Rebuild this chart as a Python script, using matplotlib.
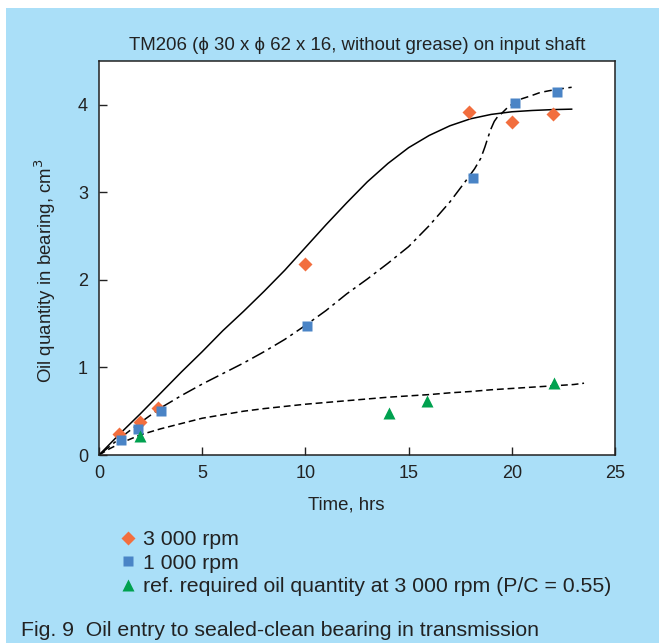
import matplotlib
matplotlib.use("Agg")
import matplotlib.pyplot as plt
from matplotlib.patches import Rectangle
from matplotlib.lines import Line2D

plt.rcParams['font.family'] = ['Liberation Sans', 'DejaVu Sans']

# measured points
t_3000 = [0.95, 2.0, 2.85, 10.0, 17.95, 20.0, 22.0]
q_3000 = [0.24, 0.38, 0.54, 2.18, 3.92, 3.80, 3.89]
t_1000 = [1.05, 1.9, 3.0, 10.08, 18.13, 20.16, 22.2]
q_1000 = [0.17, 0.30, 0.50, 1.47, 3.16, 4.02, 4.15]
t_ref = [2.0, 14.05, 15.9, 22.05]
q_ref = [0.22, 0.48, 0.62, 0.82]

# fitted curves
fit_3000_t = [0, 1, 2, 3, 4, 5, 6, 7, 8, 9, 10, 11, 12, 13, 14, 15, 16, 17, 18, 19, 20, 21, 22, 22.9]
fit_3000_q = [0, 0.24, 0.47, 0.71, 0.95, 1.18, 1.42, 1.64, 1.87, 2.11, 2.37, 2.63, 2.88, 3.12,
              3.33, 3.51, 3.65, 3.76, 3.84, 3.89, 3.92, 3.935, 3.945, 3.95]
fit_1000_t = [0, 1, 2, 3, 4, 5, 6, 7, 8, 9, 10, 11, 12, 13, 14, 15, 16, 17,
              17.8, 18.2, 18.5, 18.7, 18.85, 19.0, 19.15, 19.3, 19.5]
fit_1000_q = [0, 0.19, 0.37, 0.54, 0.68, 0.81, 0.93, 1.05, 1.18, 1.32, 1.48, 1.65, 1.84, 2.01,
              2.19, 2.38, 2.62, 2.89, 3.14, 3.27, 3.39, 3.52, 3.63, 3.73, 3.81, 3.86, 3.90]
fit_1000b_t = [19.5, 19.8, 20.16, 20.5, 20.9, 21.37, 21.8, 22.3, 22.9]
fit_1000b_q = [3.90, 3.97, 4.03, 4.07, 4.10, 4.14, 4.16, 4.18, 4.20]
fit_ref_t = [0, 0.5, 1, 1.5, 2, 3, 4, 5, 6, 7, 8, 9, 10, 11, 12, 13, 14, 15, 16, 17, 18, 19,
             20, 21, 22, 23, 23.5]
fit_ref_q = [0, 0.07, 0.13, 0.18, 0.23, 0.30, 0.36, 0.42, 0.46, 0.50, 0.53, 0.555, 0.58, 0.60,
             0.62, 0.64, 0.66, 0.675, 0.69, 0.71, 0.725, 0.745, 0.76, 0.775, 0.79, 0.805, 0.82]

bg = '#aadff8'
c_orange = '#f26e3e'
c_blue = '#4a84c6'
c_green = '#00a14f'
ink = '#222222'

fig = plt.figure(figsize=(6.59, 6.43), dpi=100)
fig.patch.set_facecolor('white')
fig.add_artist(Rectangle((6 / 659, 0), 1, 1 - 8 / 643, transform=fig.transFigure,
                         facecolor=bg, edgecolor='none', zorder=-10))

ax = fig.add_axes([99 / 659, 1 - 455 / 643, (615 - 99) / 659, (455 - 61) / 643])
ax.set_facecolor('white')

ax.plot(fit_3000_t, fit_3000_q, color='black', lw=1.1, ls='-')
ax.plot(fit_1000_t, fit_1000_q, color='black', lw=1.1, dashes=(9, 3, 2, 3))
ax.plot(fit_1000b_t, fit_1000b_q, color='black', lw=1.1, dashes=(5, 3))
ax.plot(fit_ref_t, fit_ref_q, color='black', lw=1.1, dashes=(4.5, 2.5))

ax.plot(t_3000, q_3000, ls='none', marker='D', ms=7.5, color=c_orange, mec='none', zorder=5)
ax.plot(t_1000, q_1000, ls='none', marker='s', ms=7.2, color=c_blue, mec='none', zorder=5)
ax.plot(t_ref, q_ref, ls='none', marker='^', ms=9, color=c_green, mec='none', zorder=5)

ax.set_xlim(0, 25)
ax.set_ylim(0, 4.5)
ax.set_xticks([0, 5, 10, 15, 20, 25])
ax.set_yticks([0, 1, 2, 3, 4])
ax.tick_params(direction='in', length=5.5, width=1, labelsize=13, colors=ink)
ax.tick_params(axis='y', pad=8)
ax.tick_params(axis='x', pad=7)
for s in ax.spines.values():
    s.set_linewidth(1.1)
    s.set_color(ink)

fig.text(357 / 659, 1 - 46 / 643, 'TM206 (\u03d5 30 x \u03d5 62 x 16, without grease) on input shaft',
         ha='center', va='center', fontsize=13.4, color=ink)
fig.text(45 / 659, 1 - 271 / 643, 'Oil quantity in bearing, cm$^3$', rotation=90,
         ha='center', va='center', fontsize=13.4, color=ink)
fig.text(346 / 659, 1 - 505 / 643, 'Time, hrs', ha='center', va='center',
         fontsize=13.4, color=ink)

handles = [
    Line2D([], [], ls='none', marker='D', ms=7, color=c_orange, mec='none'),
    Line2D([], [], ls='none', marker='s', ms=6.5, color=c_blue, mec='none'),
    Line2D([], [], ls='none', marker='^', ms=9, color=c_green, mec='none'),
]
labels = ['3 000 rpm', '1 000 rpm', 'ref. required oil quantity at 3 000 rpm (P/C = 0.55)']
leg = fig.legend(handles, labels, loc='upper left', bbox_to_anchor=(119 / 659, 1 - 530 / 643),
                 frameon=False, fontsize=15.3, handlelength=0.8, handletextpad=0.35,
                 labelspacing=0.22, borderpad=0, borderaxespad=0)
for txt in leg.get_texts():
    txt.set_color(ink)

fig.text(21 / 659, 1 - 630 / 643, 'Fig. 9  Oil entry to sealed-clean bearing in transmission',
         ha='left', va='center', fontsize=15.3, color=ink)

fig.savefig('out.png', dpi=100, facecolor=fig.get_facecolor())
